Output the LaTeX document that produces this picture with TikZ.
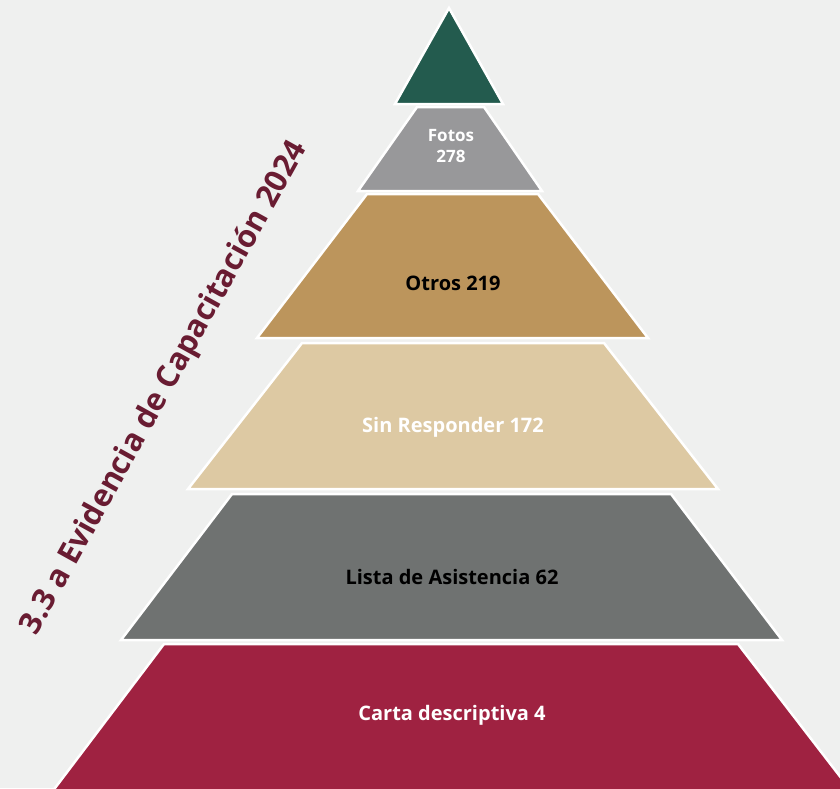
\documentclass[tikz,border=0pt]{standalone}
\usepackage{fontspec}
\setmainfont{Open Sans}
\usetikzlibrary{positioning}
\definecolor{bgpaper}{HTML}{EFF0EF}
\definecolor{cimagreen}{HTML}{235B4E}
\definecolor{fotosgray}{HTML}{98989A}
\definecolor{otrosgold}{HTML}{BC955C}
\definecolor{sintan}{HTML}{DDC9A3}
\definecolor{listagray}{HTML}{6F7271}
\definecolor{cartared}{HTML}{9F2241}
\definecolor{titlewine}{HTML}{691C32}

\begin{document}
\begin{tikzpicture}[x=1pt, y=-1pt,
    layer/.style={draw=white, line width=2.5pt, line join=miter},
    lbl/.style={font=\bfseries\fontsize{20}{24}\selectfont, align=center, inner sep=0pt}]

  \useasboundingbox[fill=bgpaper] (0,0) rectangle (840,788);

  % pyramid layers, top to bottom
  \draw[layer, fill=cimagreen] (449,8) -- (503,104) -- (395,104) -- cycle;
  \draw[layer, fill=fotosgray] (417,107) -- (484,107) -- (542,191) -- (358,191) -- cycle;
  \draw[layer, fill=otrosgold] (367,194) -- (538,194) -- (648,338) -- (257,338) -- cycle;
  \draw[layer, fill=sintan] (302,343) -- (604,343) -- (718,489) -- (188,489) -- cycle;
  \draw[layer, fill=listagray] (232,494) -- (671,494) -- (782,640) -- (121,640) -- cycle;
  \draw[layer, fill=cartared] (164,644) -- (738,644) -- (852,792) -- (52,792) -- cycle;

  % labels
  \node[lbl, white, font=\bfseries\fontsize{17}{21}\selectfont] (fotos) at (451,146) {Fotos\\278};
  \node[lbl, black] (otros) at (453,283) {Otros 219};
  \node[lbl, white] (sinresp) at (453,427) {Sin Responder 172};
  \node[lbl, black] (lista) at (452,577) {Lista de Asistencia 62};
  \node[lbl, white] (carta) at (452,715) {Carta descriptiva 4};

  % side title
  \node[titlewine, rotate=61, font=\bfseries\fontsize{31}{36}\selectfont, inner sep=0pt]
    (titulo) at (165,388) {3.3 a Evidencia de Capacitación 2024};
\end{tikzpicture}
\end{document}
